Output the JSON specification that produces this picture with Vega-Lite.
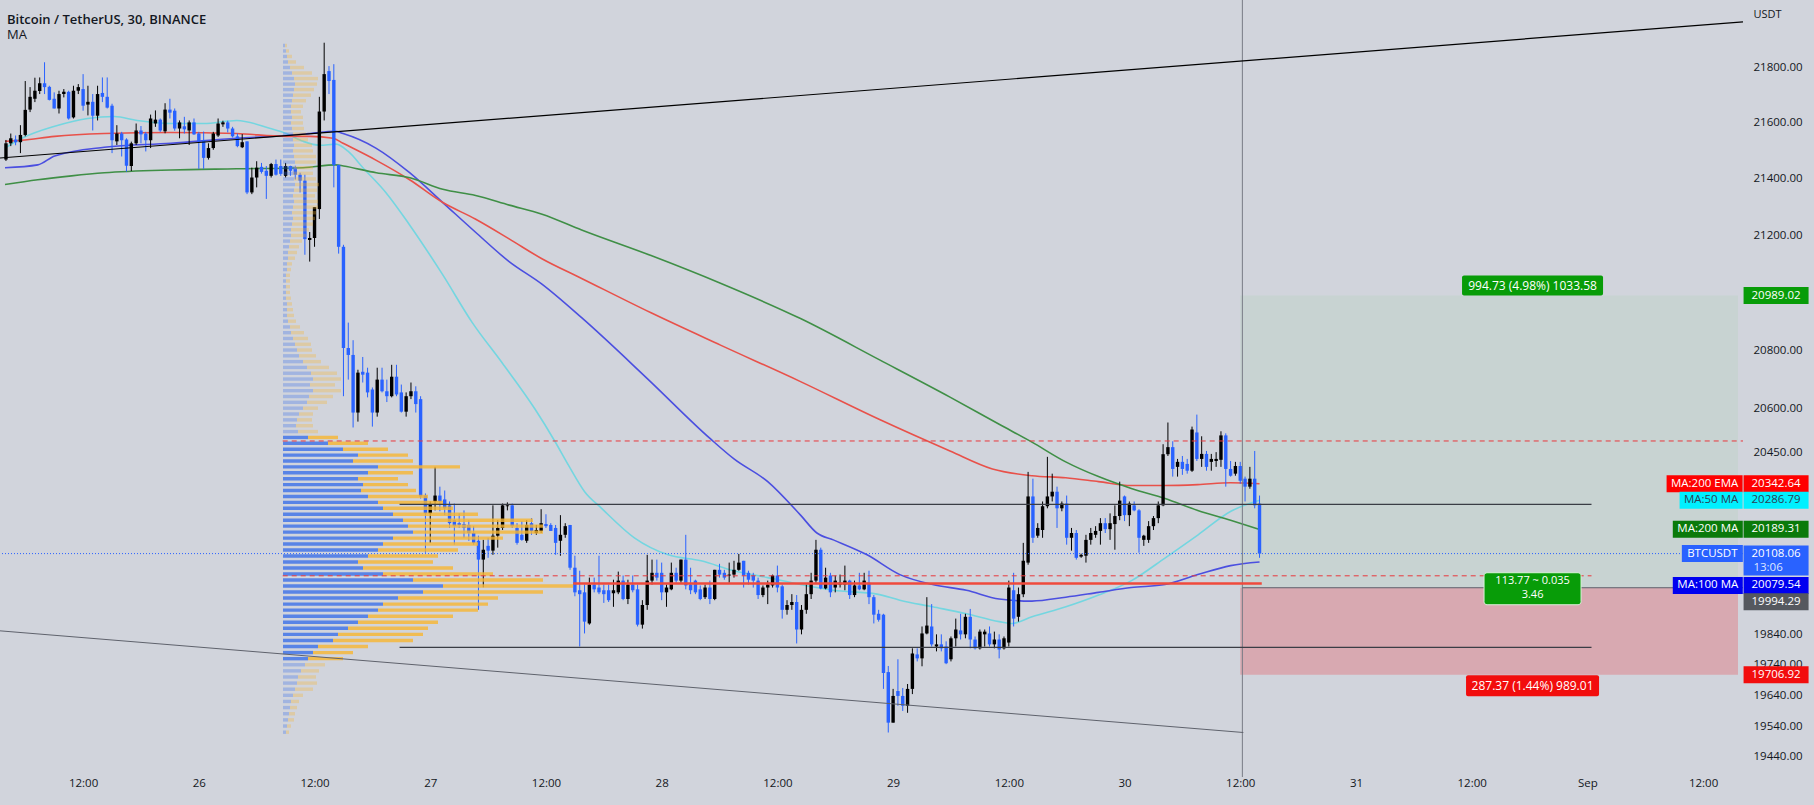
{
"$schema": "https://vega.github.io/schema/vega-lite/v6.json",
"width": 1743, "height": 777,
"autosize": {"type": "none"},
"padding": {"left": 0, "top": 0, "right": 71, "bottom": 28},
"background": "#d1d4dc",
"config": {"view": {"stroke": null}, "tick": {"opacity": 1}},
"title": {"text": "Bitcoin / TetherUS, 30, BINANCE", "subtitle": "MA", "anchor": "start", "frame": "group", "offset": -42, "dx": 7, "font": "Open Sans", "fontSize": 13, "fontWeight": 600, "color": "#131722", "subtitleFont": "Open Sans", "subtitleFontSize": 13, "subtitleColor": "#131722", "subtitlePadding": 2},
"data": {"values": [{}]},
"datasets": {
"candles": [
{"t":4,"o":21469,"h":21539,"l":21464,"c":21527},{"t":4.5,"o":21527,"h":21562,"l":21517,"c":21545},{"t":5,"o":21541,"h":21555,"l":21520,"c":21531},{"t":5.5,"o":21531,"h":21592,"l":21492,"c":21557},{"t":6,"o":21557,"h":21751,"l":21552,"c":21647},{"t":6.5,"o":21648,"h":21729,"l":21639,"c":21694},{"t":7,"o":21687,"h":21763,"l":21675,"c":21716},{"t":7.5,"o":21715,"h":21764,"l":21704,"c":21743},{"t":8,"o":21743,"h":21819,"l":21704,"c":21729},{"t":8.5,"o":21730,"h":21734,"l":21681,"c":21683},
{"t":9,"o":21687,"h":21710,"l":21652,"c":21652},{"t":9.5,"o":21652,"h":21716,"l":21634,"c":21704},{"t":10,"o":21704,"h":21722,"l":21692,"c":21712},{"t":10.5,"o":21712,"h":21716,"l":21612,"c":21616},{"t":11,"o":21620,"h":21734,"l":21616,"c":21716},{"t":11.5,"o":21716,"h":21740,"l":21704,"c":21729},{"t":12,"o":21722,"h":21776,"l":21644,"c":21662},{"t":12.5,"o":21666,"h":21734,"l":21627,"c":21676},{"t":13,"o":21676,"h":21704,"l":21573,"c":21626},{"t":13.5,"o":21626,"h":21734,"l":21609,"c":21704},
{"t":14,"o":21708,"h":21764,"l":21675,"c":21694},{"t":14.5,"o":21694,"h":21764,"l":21652,"c":21655},{"t":15,"o":21662,"h":21669,"l":21492,"c":21538},{"t":15.5,"o":21534,"h":21592,"l":21521,"c":21562},{"t":16,"o":21562,"h":21568,"l":21480,"c":21538},{"t":16.5,"o":21541,"h":21545,"l":21426,"c":21447},{"t":17,"o":21446,"h":21533,"l":21428,"c":21527},{"t":17.5,"o":21527,"h":21598,"l":21521,"c":21573},{"t":18,"o":21573,"h":21589,"l":21527,"c":21559},{"t":18.5,"o":21562,"h":21568,"l":21498,"c":21538},
{"t":19,"o":21538,"h":21630,"l":21510,"c":21616},{"t":19.5,"o":21598,"h":21645,"l":21586,"c":21612},{"t":20,"o":21612,"h":21616,"l":21568,"c":21573},{"t":20.5,"o":21570,"h":21671,"l":21563,"c":21648},{"t":21,"o":21648,"h":21687,"l":21616,"c":21637},{"t":21.5,"o":21644,"h":21652,"l":21572,"c":21580},{"t":22,"o":21580,"h":21609,"l":21545,"c":21602},{"t":22.5,"o":21588,"h":21622,"l":21562,"c":21577},{"t":23,"o":21573,"h":21609,"l":21521,"c":21602},{"t":23.5,"o":21602,"h":21616,"l":21557,"c":21559},
{"t":24,"o":21562,"h":21568,"l":21436,"c":21534},{"t":24.5,"o":21538,"h":21569,"l":21436,"c":21475},{"t":25,"o":21475,"h":21527,"l":21469,"c":21510},{"t":25.5,"o":21510,"h":21568,"l":21504,"c":21562},{"t":26,"o":21555,"h":21616,"l":21550,"c":21598},{"t":26.5,"o":21595,"h":21608,"l":21586,"c":21602},{"t":27,"o":21602,"h":21608,"l":21566,"c":21580},{"t":27.5,"o":21580,"h":21586,"l":21548,"c":21552},{"t":28,"o":21552,"h":21562,"l":21513,"c":21517},{"t":28.5,"o":21513,"h":21560,"l":21510,"c":21531},
{"t":29,"o":21534,"h":21534,"l":21346,"c":21352},{"t":29.5,"o":21352,"h":21440,"l":21346,"c":21405},{"t":30,"o":21405,"h":21463,"l":21370,"c":21440},{"t":30.5,"o":21443,"h":21457,"l":21419,"c":21425},{"t":31,"o":21429,"h":21446,"l":21329,"c":21411},{"t":31.5,"o":21411,"h":21457,"l":21405,"c":21453},{"t":32,"o":21453,"h":21469,"l":21412,"c":21415},{"t":32.5,"o":21446,"h":21469,"l":21411,"c":21418},{"t":33,"o":21411,"h":21457,"l":21405,"c":21446},{"t":33.5,"o":21446,"h":21447,"l":21411,"c":21429},
{"t":34,"o":21440,"h":21447,"l":21398,"c":21415},{"t":34.5,"o":21415,"h":21422,"l":21352,"c":21394},{"t":35,"o":21394,"h":21415,"l":21132,"c":21187},{"t":35.5,"o":21184,"h":21212,"l":21108,"c":21191},{"t":36,"o":21191,"h":21300,"l":21160,"c":21300},{"t":36.5,"o":21293,"h":21694,"l":21258,"c":21641},{"t":37,"o":21641,"h":21890,"l":21609,"c":21776},{"t":37.5,"o":21787,"h":21805,"l":21704,"c":21751},{"t":38,"o":21755,"h":21812,"l":21370,"c":21450},{"t":38.5,"o":21450,"h":21450,"l":21136,"c":21160},
{"t":39,"o":21160,"h":21167,"l":20641,"c":20807},{"t":39.5,"o":20807,"h":20895,"l":20698,"c":20783},{"t":40,"o":20783,"h":20834,"l":20534,"c":20585},{"t":40.5,"o":20585,"h":20732,"l":20554,"c":20722},{"t":41,"o":20725,"h":20776,"l":20688,"c":20715},{"t":41.5,"o":20722,"h":20739,"l":20637,"c":20654},{"t":42,"o":20664,"h":20671,"l":20537,"c":20585},{"t":42.5,"o":20585,"h":20739,"l":20571,"c":20698},{"t":43,"o":20698,"h":20739,"l":20654,"c":20658},{"t":43.5,"o":20658,"h":20698,"l":20621,"c":20641},
{"t":44,"o":20641,"h":20749,"l":20637,"c":20708},{"t":44.5,"o":20708,"h":20749,"l":20641,"c":20647},{"t":45,"o":20654,"h":20681,"l":20585,"c":20588},{"t":45.5,"o":20588,"h":20654,"l":20571,"c":20641},{"t":46,"o":20641,"h":20688,"l":20631,"c":20658},{"t":46.5,"o":20658,"h":20675,"l":20585,"c":20614},{"t":47,"o":20631,"h":20641,"l":20293,"c":20300},{"t":47.5,"o":20303,"h":20310,"l":20111,"c":20243},{"t":48,"o":20243,"h":20283,"l":20144,"c":20273},{"t":48.5,"o":20283,"h":20400,"l":20253,"c":20303},
{"t":49,"o":20303,"h":20333,"l":20250,"c":20283},{"t":49.5,"o":20290,"h":20320,"l":20237,"c":20260},{"t":50,"o":20270,"h":20283,"l":20194,"c":20210},{"t":50.5,"o":20220,"h":20276,"l":20138,"c":20200},{"t":51,"o":20210,"h":20243,"l":20194,"c":20204},{"t":51.5,"o":20207,"h":20253,"l":20161,"c":20194},{"t":52,"o":20204,"h":20220,"l":20151,"c":20177},{"t":52.5,"o":20177,"h":20200,"l":20138,"c":20144},{"t":53,"o":20151,"h":20168,"l":19921,"c":20088},{"t":53.5,"o":20088,"h":20154,"l":19996,"c":20121},
{"t":54,"o":20134,"h":20161,"l":20094,"c":20118},{"t":54.5,"o":20118,"h":20270,"l":20104,"c":20168},{"t":55,"o":20168,"h":20220,"l":20128,"c":20194},{"t":55.5,"o":20194,"h":20276,"l":20187,"c":20270},{"t":56,"o":20267,"h":20280,"l":20253,"c":20270},{"t":56.5,"o":20270,"h":20276,"l":20194,"c":20200},{"t":57,"o":20194,"h":20210,"l":20138,"c":20144},{"t":57.5,"o":20171,"h":20217,"l":20151,"c":20154},{"t":58,"o":20151,"h":20220,"l":20144,"c":20204},{"t":58.5,"o":20210,"h":20227,"l":20171,"c":20184},
{"t":59,"o":20177,"h":20204,"l":20171,"c":20187},{"t":59.5,"o":20184,"h":20257,"l":20177,"c":20210},{"t":60,"o":20207,"h":20240,"l":20194,"c":20200},{"t":60.5,"o":20204,"h":20210,"l":20184,"c":20184},{"t":61,"o":20194,"h":20204,"l":20104,"c":20144},{"t":61.5,"o":20151,"h":20237,"l":20101,"c":20171},{"t":62,"o":20171,"h":20210,"l":20161,"c":20200},{"t":62.5,"o":20204,"h":20204,"l":20054,"c":20061},{"t":63,"o":20061,"h":20101,"l":19966,"c":19979},{"t":63.5,"o":19986,"h":20051,"l":19800,"c":19973},
{"t":64,"o":19979,"h":20005,"l":19843,"c":19882},{"t":64.5,"o":19876,"h":20028,"l":19872,"c":20005},{"t":65,"o":20005,"h":20028,"l":19979,"c":19989},{"t":65.5,"o":19995,"h":20101,"l":19973,"c":19979},{"t":66,"o":19986,"h":20005,"l":19944,"c":19973},{"t":66.5,"o":19986,"h":20005,"l":19947,"c":19953},{"t":67,"o":19976,"h":20021,"l":19931,"c":19986},{"t":67.5,"o":19979,"h":20048,"l":19973,"c":20018},{"t":68,"o":20018,"h":20035,"l":19953,"c":19957},{"t":68.5,"o":19957,"h":20021,"l":19940,"c":20005},
{"t":69,"o":20005,"h":20035,"l":19979,"c":19986},{"t":69.5,"o":19989,"h":20005,"l":19866,"c":19872},{"t":70,"o":19872,"h":19953,"l":19859,"c":19937},{"t":70.5,"o":19937,"h":20104,"l":19921,"c":20018},{"t":71,"o":20018,"h":20088,"l":20005,"c":20044},{"t":71.5,"o":20044,"h":20088,"l":20018,"c":20028},{"t":72,"o":20044,"h":20078,"l":19953,"c":19979},{"t":72.5,"o":19979,"h":20005,"l":19931,"c":19995},{"t":73,"o":19989,"h":20078,"l":19986,"c":20044},{"t":73.5,"o":20044,"h":20061,"l":20011,"c":20018},
{"t":74,"o":20018,"h":20088,"l":20011,"c":20088},{"t":74.5,"o":20088,"h":20171,"l":19989,"c":20002},{"t":75,"o":20005,"h":20061,"l":19973,"c":19986},{"t":75.5,"o":20018,"h":20021,"l":19973,"c":19979},{"t":76,"o":19989,"h":20002,"l":19953,"c":19957},{"t":76.5,"o":19963,"h":20005,"l":19957,"c":19995},{"t":77,"o":19995,"h":20018,"l":19940,"c":19957},{"t":77.5,"o":19957,"h":20054,"l":19953,"c":20054},{"t":78,"o":20054,"h":20074,"l":20028,"c":20038},{"t":78.5,"o":20044,"h":20054,"l":20021,"c":20028},
{"t":79,"o":20035,"h":20078,"l":20011,"c":20038},{"t":79.5,"o":20038,"h":20084,"l":20028,"c":20054},{"t":80,"o":20054,"h":20107,"l":20051,"c":20078},{"t":80.5,"o":20084,"h":20084,"l":19995,"c":20035},{"t":81,"o":20044,"h":20051,"l":20005,"c":20021},{"t":81.5,"o":20035,"h":20044,"l":19995,"c":20018},{"t":82,"o":20018,"h":20028,"l":19957,"c":19970},{"t":82.5,"o":19970,"h":20002,"l":19963,"c":19995},{"t":83,"o":19995,"h":20018,"l":19940,"c":20005},{"t":83.5,"o":20002,"h":20038,"l":19995,"c":20035},
{"t":84,"o":20035,"h":20068,"l":19979,"c":19995},{"t":84.5,"o":19999,"h":20005,"l":19892,"c":19921},{"t":85,"o":19921,"h":19953,"l":19905,"c":19937},{"t":85.5,"o":19937,"h":19973,"l":19921,"c":19947},{"t":86,"o":19947,"h":19970,"l":19810,"c":19856},{"t":86.5,"o":19856,"h":19937,"l":19840,"c":19921},{"t":87,"o":19921,"h":20005,"l":19908,"c":19973},{"t":87.5,"o":19973,"h":20044,"l":19957,"c":20018},{"t":88,"o":20018,"h":20154,"l":20011,"c":20121},{"t":88.5,"o":20121,"h":20128,"l":19989,"c":19992},
{"t":89,"o":19992,"h":20061,"l":19989,"c":20028},{"t":89.5,"o":20035,"h":20044,"l":19963,"c":19979},{"t":90,"o":19995,"h":20035,"l":19979,"c":20018},{"t":90.5,"o":20005,"h":20038,"l":19995,"c":20011},{"t":91,"o":20005,"h":20068,"l":19986,"c":20018},{"t":91.5,"o":20018,"h":20021,"l":19957,"c":19970},{"t":92,"o":19970,"h":20018,"l":19963,"c":20002},{"t":92.5,"o":20002,"h":20044,"l":19986,"c":19989},{"t":93,"o":19989,"h":20044,"l":19986,"c":20018},{"t":93.5,"o":20011,"h":20051,"l":19940,"c":19963},
{"t":94,"o":19963,"h":19970,"l":19876,"c":19905},{"t":94.5,"o":19908,"h":19921,"l":19882,"c":19888},{"t":95,"o":19905,"h":19908,"l":19661,"c":19713},{"t":95.5,"o":19716,"h":19736,"l":19519,"c":19551},{"t":96,"o":19551,"h":19661,"l":19551,"c":19638},{"t":96.5,"o":19654,"h":19758,"l":19606,"c":19638},{"t":97,"o":19638,"h":19664,"l":19589,"c":19606},{"t":97.5,"o":19606,"h":19677,"l":19583,"c":19661},{"t":98,"o":19661,"h":19794,"l":19644,"c":19777},{"t":98.5,"o":19774,"h":19794,"l":19751,"c":19761},
{"t":99,"o":19761,"h":19866,"l":19735,"c":19843},{"t":99.5,"o":19843,"h":19963,"l":19840,"c":19869},{"t":100,"o":19866,"h":19940,"l":19800,"c":19807},{"t":100.5,"o":19800,"h":19840,"l":19784,"c":19807},{"t":101,"o":19807,"h":19840,"l":19784,"c":19794},{"t":101.5,"o":19800,"h":19817,"l":19742,"c":19745},{"t":102,"o":19758,"h":19833,"l":19751,"c":19827},{"t":102.5,"o":19827,"h":19892,"l":19800,"c":19856},{"t":103,"o":19853,"h":19908,"l":19823,"c":19840},{"t":103.5,"o":19840,"h":19908,"l":19827,"c":19898},
{"t":104,"o":19898,"h":19924,"l":19794,"c":19823},{"t":104.5,"o":19823,"h":19833,"l":19790,"c":19794},{"t":105,"o":19794,"h":19856,"l":19790,"c":19849},{"t":105.5,"o":19840,"h":19856,"l":19800,"c":19849},{"t":106,"o":19843,"h":19866,"l":19800,"c":19807},{"t":106.5,"o":19807,"h":19849,"l":19794,"c":19823},{"t":107,"o":19823,"h":19840,"l":19761,"c":19790},{"t":107.5,"o":19794,"h":19833,"l":19790,"c":19827},{"t":108,"o":19813,"h":20018,"l":19800,"c":19995},{"t":108.5,"o":19986,"h":20044,"l":19866,"c":19892},
{"t":109,"o":19898,"h":19995,"l":19882,"c":19973},{"t":109.5,"o":19973,"h":20144,"l":19963,"c":20084},{"t":110,"o":20078,"h":20383,"l":20071,"c":20300},{"t":110.5,"o":20300,"h":20360,"l":20144,"c":20161},{"t":111,"o":20168,"h":20210,"l":20161,"c":20194},{"t":111.5,"o":20187,"h":20283,"l":20161,"c":20267},{"t":112,"o":20267,"h":20434,"l":20260,"c":20300},{"t":112.5,"o":20300,"h":20377,"l":20283,"c":20316},{"t":113,"o":20316,"h":20333,"l":20194,"c":20260},{"t":113.5,"o":20260,"h":20283,"l":20250,"c":20276},
{"t":114,"o":20276,"h":20303,"l":20138,"c":20161},{"t":114.5,"o":20161,"h":20194,"l":20118,"c":20177},{"t":115,"o":20177,"h":20187,"l":20088,"c":20094},{"t":115.5,"o":20098,"h":20108,"l":20094,"c":20104},{"t":116,"o":20101,"h":20171,"l":20078,"c":20154},{"t":116.5,"o":20154,"h":20194,"l":20138,"c":20177},{"t":117,"o":20171,"h":20200,"l":20161,"c":20184},{"t":117.5,"o":20184,"h":20227,"l":20138,"c":20210},{"t":118,"o":20210,"h":20227,"l":20177,"c":20190},{"t":118.5,"o":20190,"h":20243,"l":20154,"c":20210},
{"t":119,"o":20207,"h":20270,"l":20121,"c":20234},{"t":119.5,"o":20234,"h":20350,"l":20220,"c":20286},{"t":120,"o":20300,"h":20303,"l":20217,"c":20237},{"t":120.5,"o":20237,"h":20283,"l":20200,"c":20276},{"t":121,"o":20270,"h":20283,"l":20250,"c":20253},{"t":121.5,"o":20253,"h":20257,"l":20111,"c":20161},{"t":122,"o":20154,"h":20171,"l":20134,"c":20168},{"t":122.5,"o":20154,"h":20217,"l":20144,"c":20200},{"t":123,"o":20200,"h":20234,"l":20187,"c":20227},{"t":123.5,"o":20227,"h":20283,"l":20210,"c":20270},
{"t":124,"o":20270,"h":20477,"l":20267,"c":20443},{"t":124.5,"o":20443,"h":20551,"l":20437,"c":20467},{"t":125,"o":20467,"h":20487,"l":20367,"c":20393},{"t":125.5,"o":20400,"h":20427,"l":20367,"c":20417},{"t":126,"o":20417,"h":20437,"l":20373,"c":20393},{"t":126.5,"o":20410,"h":20427,"l":20377,"c":20387},{"t":127,"o":20387,"h":20537,"l":20383,"c":20527},{"t":127.5,"o":20517,"h":20578,"l":20420,"c":20427},{"t":128,"o":20427,"h":20504,"l":20400,"c":20444},{"t":128.5,"o":20444,"h":20454,"l":20387,"c":20400},
{"t":129,"o":20417,"h":20444,"l":20387,"c":20427},{"t":129.5,"o":20420,"h":20450,"l":20400,"c":20427},{"t":130,"o":20424,"h":20521,"l":20400,"c":20507},{"t":130.5,"o":20507,"h":20514,"l":20333,"c":20393},{"t":131,"o":20393,"h":20420,"l":20367,"c":20370},{"t":131.5,"o":20377,"h":20417,"l":20370,"c":20403},{"t":132,"o":20403,"h":20417,"l":20343,"c":20353},{"t":132.5,"o":20360,"h":20367,"l":20283,"c":20333},{"t":133,"o":20333,"h":20400,"l":20326,"c":20360},{"t":133.5,"o":20360,"h":20454,"l":20260,"c":20270},
{"t":134,"o":20276,"h":20303,"l":20094,"c":20108.06}
],
"ma": [
{"s":"ma50","t":3.9,"v":21510},{"s":"ma50","t":5.65,"v":21545},{"s":"ma50","t":9.05,"v":21588},{"s":"ma50","t":12.46,"v":21616},{"s":"ma50","t":15.24,"v":21623},{"s":"ma50","t":17.61,"v":21609},{"s":"ma50","t":21.12,"v":21598},{"s":"ma50","t":24.52,"v":21598},{"s":"ma50","t":27.93,"v":21609},{"s":"ma50","t":31.43,"v":21580},{"s":"ma50","t":33.08,"v":21562},{"s":"ma50","t":34.83,"v":21534},{"s":"ma50","t":36.58,"v":21520},{"s":"ma50","t":38.23,"v":21524},{"s":"ma50","t":39.47,"v":21499},{"s":"ma50","t":41.02,"v":21440},{"s":"ma50","t":43.39,"v":21352},{"s":"ma50","t":45.86,"v":21237},{"s":"ma50","t":49.27,"v":21063},{"s":"ma50","t":52.36,"v":20895},{"s":"ma50","t":55.45,"v":20756},{"s":"ma50","t":58.86,"v":20597},{"s":"ma50","t":60.92,"v":20487},{"s":"ma50","t":62.36,"v":20404},{"s":"ma50","t":64.01,"v":20316},{"s":"ma50","t":65.77,"v":20260},{"s":"ma50","t":69.17,"v":20161},{"s":"ma50","t":72.68,"v":20104},{"s":"ma50","t":76.08,"v":20084},{"s":"ma50","t":79.48,"v":20051},{"s":"ma50","t":82.99,"v":20028},{"s":"ma50","t":86.39,"v":20005},{"s":"ma50","t":89.79,"v":19986},{"s":"ma50","t":94.33,"v":19973},{"s":"ma50","t":96.7,"v":19953},{"s":"ma50","t":100.1,"v":19931},{"s":"ma50","t":103.61,"v":19908},{"s":"ma50","t":107.01,"v":19882},{"s":"ma50","t":108.35,"v":19876},{"s":"ma50","t":110.41,"v":19898},{"s":"ma50","t":113.92,"v":19931},{"s":"ma50","t":117.32,"v":19970},{"s":"ma50","t":120.73,"v":20018},{"s":"ma50","t":124.23,"v":20094},{"s":"ma50","t":127.63,"v":20171},{"s":"ma50","t":131.03,"v":20250},{"s":"ma50","t":134,"v":20287},
{"s":"ma100","t":3.9,"v":21440},{"s":"ma100","t":7.3,"v":21450},{"s":"ma100","t":9.05,"v":21482},{"s":"ma100","t":14.2,"v":21513},{"s":"ma100","t":21.1,"v":21527},{"s":"ma100","t":27.9,"v":21545},{"s":"ma100","t":33.1,"v":21555},{"s":"ma100","t":35.55,"v":21562},{"s":"ma100","t":38.1,"v":21570},{"s":"ma100","t":38.96,"v":21562},{"s":"ma100","t":42.36,"v":21510},{"s":"ma100","t":45.86,"v":21422},{"s":"ma100","t":49.27,"v":21317},{"s":"ma100","t":52.67,"v":21212},{"s":"ma100","t":56.18,"v":21108},{"s":"ma100","t":59.58,"v":21029},{"s":"ma100","t":63.7,"v":20912},{"s":"ma100","t":70.4,"v":20705},{"s":"ma100","t":77.1,"v":20494},{"s":"ma100","t":79.5,"v":20427},{"s":"ma100","t":83,"v":20350},{"s":"ma100","t":86.4,"v":20237},{"s":"ma100","t":88.1,"v":20177},{"s":"ma100","t":89.8,"v":20154},{"s":"ma100","t":93.3,"v":20104},{"s":"ma100","t":96.7,"v":20038},{"s":"ma100","t":100.1,"v":20005},{"s":"ma100","t":103.6,"v":19986},{"s":"ma100","t":107,"v":19957},{"s":"ma100","t":110.4,"v":19950},{"s":"ma100","t":113.9,"v":19963},{"s":"ma100","t":117.3,"v":19979},{"s":"ma100","t":120.7,"v":19995},{"s":"ma100","t":124.2,"v":20005},{"s":"ma100","t":127.6,"v":20038},{"s":"ma100","t":131,"v":20068},{"s":"ma100","t":134,"v":20080},
{"s":"ema200","t":3.9,"v":21534},{"s":"ema200","t":5.65,"v":21538},{"s":"ema200","t":9.05,"v":21552},{"s":"ema200","t":14.2,"v":21562},{"s":"ema200","t":21.1,"v":21566},{"s":"ema200","t":27.9,"v":21562},{"s":"ema200","t":33.1,"v":21552},{"s":"ema200","t":35.55,"v":21552},{"s":"ema200","t":37.92,"v":21545},{"s":"ema200","t":38.96,"v":21527},{"s":"ema200","t":42.36,"v":21467},{"s":"ema200","t":45.86,"v":21397},{"s":"ema200","t":49.27,"v":21317},{"s":"ema200","t":52.67,"v":21258},{"s":"ema200","t":56.18,"v":21188},{"s":"ema200","t":59.58,"v":21118},{"s":"ema200","t":63.7,"v":21049},{"s":"ema200","t":70.9,"v":20929},{"s":"ema200","t":78.1,"v":20817},{"s":"ema200","t":86.4,"v":20691},{"s":"ema200","t":94.6,"v":20561},{"s":"ema200","t":101.9,"v":20454},{"s":"ema200","t":106.3,"v":20393},{"s":"ema200","t":110.4,"v":20370},{"s":"ema200","t":113.9,"v":20363},{"s":"ema200","t":117.3,"v":20350},{"s":"ema200","t":120.7,"v":20337},{"s":"ema200","t":124.2,"v":20337},{"s":"ema200","t":127.6,"v":20340},{"s":"ema200","t":131,"v":20346},{"s":"ema200","t":134,"v":20343},
{"s":"ma200","t":3.9,"v":21380},{"s":"ma200","t":7.3,"v":21397},{"s":"ma200","t":10.8,"v":21411},{"s":"ma200","t":14.2,"v":21422},{"s":"ma200","t":21.1,"v":21432},{"s":"ma200","t":27.9,"v":21436},{"s":"ma200","t":34.8,"v":21440},{"s":"ma200","t":38.2,"v":21450},{"s":"ma200","t":39,"v":21446},{"s":"ma200","t":42.4,"v":21422},{"s":"ma200","t":45.9,"v":21404},{"s":"ma200","t":49.3,"v":21363},{"s":"ma200","t":52.7,"v":21341},{"s":"ma200","t":56.2,"v":21307},{"s":"ma200","t":59.6,"v":21275},{"s":"ma200","t":63.7,"v":21219},{"s":"ma200","t":70.9,"v":21129},{"s":"ma200","t":78.1,"v":21032},{"s":"ma200","t":86.4,"v":20909},{"s":"ma200","t":94.6,"v":20766},{"s":"ma200","t":101.9,"v":20638},{"s":"ma200","t":107,"v":20545},{"s":"ma200","t":110.4,"v":20484},{"s":"ma200","t":113.9,"v":20417},{"s":"ma200","t":117.3,"v":20367},{"s":"ma200","t":120.7,"v":20327},{"s":"ma200","t":124.2,"v":20293},{"s":"ma200","t":127.6,"v":20253},{"s":"ma200","t":131,"v":20220},{"s":"ma200","t":134,"v":20189}
],
"vp": [
{"p":21880,"b":2,"o":2},{"p":21860,"b":3,"o":3},{"p":21840,"b":4,"o":5},{"p":21820,"b":5,"o":8},{"p":21800,"b":7,"o":14},{"p":21780,"b":9,"o":20},{"p":21760,"b":11,"o":24},{"p":21740,"b":12,"o":22},{"p":21720,"b":11,"o":20},{"p":21700,"b":10,"o":18},
{"p":21680,"b":9,"o":14},{"p":21660,"b":8,"o":12},{"p":21640,"b":8,"o":10},{"p":21620,"b":9,"o":11},{"p":21600,"b":8,"o":12},{"p":21580,"b":9,"o":12},{"p":21560,"b":10,"o":13},{"p":21540,"b":10,"o":15},{"p":21520,"b":11,"o":18},{"p":21500,"b":10,"o":20},
{"p":21480,"b":11,"o":22},{"p":21460,"b":12,"o":21},{"p":21440,"b":11,"o":19},{"p":21420,"b":10,"o":20},{"p":21400,"b":11,"o":22},{"p":21380,"b":12,"o":24},{"p":21360,"b":11,"o":23},{"p":21340,"b":10,"o":22},{"p":21320,"b":11,"o":24},{"p":21300,"b":10,"o":25},
{"p":21280,"b":9,"o":24},{"p":21260,"b":10,"o":22},{"p":21240,"b":9,"o":21},{"p":21220,"b":8,"o":18},{"p":21200,"b":8,"o":15},{"p":21180,"b":7,"o":12},{"p":21160,"b":6,"o":10},{"p":21140,"b":5,"o":9},{"p":21120,"b":5,"o":7},{"p":21100,"b":4,"o":5},
{"p":21080,"b":4,"o":4},{"p":21060,"b":3,"o":4},{"p":21040,"b":3,"o":4},{"p":21020,"b":3,"o":4},{"p":21000,"b":3,"o":4},{"p":20980,"b":3,"o":5},{"p":20960,"b":4,"o":5},{"p":20940,"b":4,"o":6},{"p":20920,"b":4,"o":7},{"p":20900,"b":5,"o":8},
{"p":20880,"b":7,"o":10},{"p":20860,"b":8,"o":13},{"p":20840,"b":10,"o":15},{"p":20820,"b":12,"o":16},{"p":20800,"b":14,"o":15},{"p":20780,"b":16,"o":17},{"p":20760,"b":20,"o":18},{"p":20740,"b":24,"o":22},{"p":20720,"b":28,"o":26},{"p":20700,"b":30,"o":28},
{"p":20680,"b":27,"o":25},{"p":20660,"b":30,"o":28},{"p":20640,"b":26,"o":24},{"p":20620,"b":24,"o":20},{"p":20600,"b":20,"o":15},{"p":20580,"b":16,"o":14},{"p":20560,"b":14,"o":15},{"p":20540,"b":13,"o":17},{"p":20520,"b":15,"o":20},{"p":20500,"b":25,"o":30},
{"p":20480,"b":45,"o":40},{"p":20460,"b":60,"o":45},{"p":20440,"b":75,"o":50},{"p":20420,"b":70,"o":60},{"p":20400,"b":95,"o":82},{"p":20380,"b":85,"o":45},{"p":20360,"b":75,"o":40},{"p":20340,"b":80,"o":45},{"p":20320,"b":78,"o":55},{"p":20300,"b":85,"o":60},
{"p":20280,"b":95,"o":65},{"p":20260,"b":100,"o":70},{"p":20240,"b":110,"o":85},{"p":20220,"b":120,"o":130},{"p":20200,"b":125,"o":135},{"p":20180,"b":130,"o":130},{"p":20160,"b":110,"o":110},{"p":20140,"b":100,"o":95},{"p":20120,"b":95,"o":80},{"p":20100,"b":85,"o":70},
{"p":20080,"b":75,"o":75},{"p":20060,"b":80,"o":90},{"p":20040,"b":100,"o":110},{"p":20020,"b":130,"o":130},{"p":20000,"b":160,"o":130},{"p":19980,"b":140,"o":120},{"p":19960,"b":115,"o":100},{"p":19940,"b":100,"o":105},{"p":19920,"b":95,"o":100},{"p":19900,"b":85,"o":85},
{"p":19880,"b":75,"o":80},{"p":19860,"b":65,"o":80},{"p":19840,"b":55,"o":85},{"p":19820,"b":50,"o":80},{"p":19800,"b":35,"o":50},{"p":19780,"b":30,"o":40},{"p":19760,"b":25,"o":35},{"p":19740,"b":22,"o":20},{"p":19720,"b":18,"o":18},{"p":19700,"b":15,"o":18},
{"p":19680,"b":14,"o":20},{"p":19660,"b":12,"o":18},{"p":19640,"b":10,"o":10},{"p":19620,"b":8,"o":8},{"p":19600,"b":7,"o":7},{"p":19580,"b":6,"o":6},{"p":19560,"b":5,"o":6},{"p":19540,"b":4,"o":4},{"p":19520,"b":3,"o":3}
]
},
"layer": [
{
"layer": [
{"mark": {"type": "rect", "color": "#c8d3d2"},
 "encoding": {"x": {"datum": 132, "type": "quantitative", "scale": {"domain": [3.9, 183.62], "nice": false, "zero": false}, "title": null},
  "x2": {"datum": 183.62},
  "y": {"datum": 19994.29, "type": "quantitative", "scale": {"type": "log", "domain": [19391.3, 22027.6], "nice": false}, "title": "USDT",
   "axis": {"orient": "right", "values": [21800,21600,21400,21200,20800,20600,20450,19840,19740,19640,19540,19440], "format": ".2f", "grid": false, "ticks": false, "domain": false, "labelFont": "Open Sans", "labelFontSize": 11.5, "labelColor": "#131722", "labelPadding": 10, "labelAlign": "left", "labelBaseline": "middle", "labelFlush": false, "labelOverlap": false, "titleAngle": 0, "titleX": 10, "titleY": 14, "titleAlign": "left", "titleBaseline": "middle", "titleFont": "Open Sans", "titleFontSize": 11, "titleFontWeight": "normal", "titleColor": "#131722"}},
  "y2": {"datum": 20989.02}}},
{"mark": {"type": "rect", "color": "#d8a9b1"},
 "encoding": {"x": {"datum": 132, "type": "quantitative", "scale": {"domain": [3.9, 183.62], "nice": false, "zero": false}, "title": null},
  "x2": {"datum": 183.62},
  "y": {"datum": 19706.92, "type": "quantitative", "scale": {"type": "log", "domain": [19391.3, 22027.6], "nice": false}, "title": "USDT"},
  "y2": {"datum": 19994.29}}},
{"data": {"name": "ma"},
 "mark": {"type": "line", "strokeWidth": 1.6, "clip": true, "interpolate": "monotone"},
 "encoding": {"x": {"field": "t", "type": "quantitative", "scale": {"domain": [3.9, 183.62], "nice": false, "zero": false}, "title": null},
  "y": {"field": "v", "type": "quantitative", "scale": {"type": "log", "domain": [19391.3, 22027.6], "nice": false}, "title": "USDT"},
  "color": {"field": "s", "type": "nominal", "scale": {"domain": ["ma50","ma100","ema200","ma200"], "range": ["#74d6e0","#4b4fe0","#e8514a","#3f8f46"]}, "legend": null}}},
{"data": {"name": "candles"},
 "mark": {"type": "rule", "strokeWidth": 1, "clip": true},
 "encoding": {"x": {"field": "t", "type": "quantitative", "scale": {"domain": [3.9, 183.62], "nice": false, "zero": false}, "title": null,
   "axis": {"values": [12,24,36,48,60,72,84,96,108,120,132,144,156,168,180], "labelExpr": "datum.value % 24 == 12 ? '12:00' : (datum.value == 168 ? 'Sep' : '' + (25 + datum.value / 24))", "grid": false, "ticks": false, "domain": false, "labelFont": "Open Sans", "labelFontSize": 11.5, "labelColor": "#131722", "labelPadding": 0, "labelFlush": false, "labelOverlap": false}},
  "y": {"field": "l", "type": "quantitative", "scale": {"type": "log", "domain": [19391.3, 22027.6], "nice": false}, "title": "USDT"},
  "y2": {"field": "h"},
  "color": {"condition": {"test": "datum.c >= datum.o", "value": "#000000"}, "value": "#2962ff"}}},
{"data": {"name": "candles"},
 "mark": {"type": "bar", "size": 3.4, "orient": "vertical", "clip": true},
 "encoding": {"x": {"field": "t", "type": "quantitative", "scale": {"domain": [3.9, 183.62], "nice": false, "zero": false}, "title": null},
  "y": {"field": "o", "type": "quantitative", "scale": {"type": "log", "domain": [19391.3, 22027.6], "nice": false}, "title": "USDT"},
  "y2": {"field": "c"},
  "color": {"condition": {"test": "datum.c >= datum.o", "value": "#000000"}, "value": "#2962ff"}}}
]
},
{"data": {"name": "vp"},
 "transform": [{"fold": ["b", "o"], "as": ["side", "vol"]}],
 "mark": {"type": "bar", "orient": "horizontal", "size": 3.4},
 "encoding": {"x": {"field": "vol", "type": "quantitative", "stack": "zero", "scale": {"domain": [0, 290], "range": [283, 573], "nice": false, "zero": true}, "axis": null},
  "y": {"field": "p", "type": "quantitative", "scale": {"type": "log", "domain": [19391.3, 22027.6], "nice": false}, "title": "USDT"},
  "color": {"field": "side", "type": "nominal", "scale": {"domain": ["b","o"], "range": ["#3b6fe8","#f7b531"]}, "legend": null},
  "order": {"field": "side", "sort": "ascending"},
  "opacity": {"condition": {"test": "datum.p >= 19760 && datum.p <= 20500", "value": 0.8}, "value": 0.32}}},
{
"layer": [
{"mark": {"type": "rule", "color": "#2962ff", "strokeDash": [1, 2], "strokeWidth": 1},
 "encoding": {"y": {"datum": 20108.06, "type": "quantitative", "scale": {"type": "log", "domain": [19391.3, 22027.6], "nice": false}, "title": "USDT"}}},
{"mark": {"type": "rule", "color": "#787b86", "strokeWidth": 1},
 "encoding": {"x": {"datum": 132, "type": "quantitative", "scale": {"domain": [3.9, 183.62], "nice": false, "zero": false}, "axis": null}}},
{"mark": {"type": "rule", "color": "#5d606b", "strokeWidth": 1},
 "encoding": {"x": {"datum": 132, "type": "quantitative", "scale": {"domain": [3.9, 183.62], "nice": false, "zero": false}, "axis": null}, "x2": {"datum": 183.62},
  "y": {"datum": 19994.29, "type": "quantitative", "scale": {"type": "log", "domain": [19391.3, 22027.6], "nice": false}, "title": "USDT"}}},
{"mark": {"type": "rule", "color": "#ef4a3c", "strokeWidth": 2.5},
 "encoding": {"x": {"datum": 63, "type": "quantitative", "scale": {"domain": [3.9, 183.62], "nice": false, "zero": false}, "axis": null}, "x2": {"datum": 134},
  "y": {"datum": 20008, "type": "quantitative", "scale": {"type": "log", "domain": [19391.3, 22027.6], "nice": false}, "title": "USDT"}}},
{"mark": {"type": "rule", "color": "#e8383d", "strokeWidth": 1, "strokeDash": [5, 4]},
 "encoding": {"x": {"datum": 33.05, "type": "quantitative", "scale": {"domain": [3.9, 183.62], "nice": false, "zero": false}, "axis": null}, "x2": {"datum": 183.62},
  "y": {"datum": 20488, "type": "quantitative", "scale": {"type": "log", "domain": [19391.3, 22027.6], "nice": false}, "title": "USDT"}}},
{"mark": {"type": "rule", "color": "#e8383d", "strokeWidth": 1, "strokeDash": [5, 4]},
 "encoding": {"x": {"datum": 33.05, "type": "quantitative", "scale": {"domain": [3.9, 183.62], "nice": false, "zero": false}, "axis": null}, "x2": {"datum": 168},
  "y": {"datum": 20034, "type": "quantitative", "scale": {"type": "log", "domain": [19391.3, 22027.6], "nice": false}, "title": "USDT"}}},
{"mark": {"type": "rule", "color": "#3a3d45", "strokeWidth": 1.2},
 "encoding": {"x": {"datum": 45.1, "type": "quantitative", "scale": {"domain": [3.9, 183.62], "nice": false, "zero": false}, "axis": null}, "x2": {"datum": 168},
  "y": {"datum": 20273, "type": "quantitative", "scale": {"type": "log", "domain": [19391.3, 22027.6], "nice": false}, "title": "USDT"}}},
{"mark": {"type": "rule", "color": "#3a3d45", "strokeWidth": 1.2},
 "encoding": {"x": {"datum": 45.1, "type": "quantitative", "scale": {"domain": [3.9, 183.62], "nice": false, "zero": false}, "axis": null}, "x2": {"datum": 168},
  "y": {"datum": 19797, "type": "quantitative", "scale": {"type": "log", "domain": [19391.3, 22027.6], "nice": false}, "title": "USDT"}}},
{"mark": {"type": "rule", "color": "#000000", "strokeWidth": 1.2},
 "encoding": {"x": {"datum": 3.9, "type": "quantitative", "scale": {"domain": [3.9, 183.62], "nice": false, "zero": false}, "axis": null}, "x2": {"datum": 183.62},
  "y": {"datum": 21474.5, "type": "quantitative", "scale": {"type": "log", "domain": [19391.3, 22027.6], "nice": false}, "title": "USDT"}, "y2": {"datum": 21966}}},
{"mark": {"type": "rule", "color": "#5f626c", "strokeWidth": 1},
 "encoding": {"x": {"datum": 3.9, "type": "quantitative", "scale": {"domain": [3.9, 183.62], "nice": false, "zero": false}, "axis": null}, "x2": {"datum": 132.1},
  "y": {"datum": 19851.6, "type": "quantitative", "scale": {"type": "log", "domain": [19391.3, 22027.6], "nice": false}, "title": "USDT"}, "y2": {"datum": 19519}}},

{"mark": {"type": "tick", "orient": "horizontal", "size": 141, "thickness": 20, "color": "#089c08", "yOffset": -10, "cornerRadius": 2},
 "encoding": {"x": {"datum": 161.92, "type": "quantitative", "scale": {"domain": [3.9, 183.62], "nice": false, "zero": false}, "axis": null},
  "y": {"datum": 20989.02, "type": "quantitative", "scale": {"type": "log", "domain": [19391.3, 22027.6], "nice": false}, "title": "USDT"}}},
{"mark": {"type": "text", "text": "994.73 (4.98%) 1033.58", "color": "#ffffff", "font": "Open Sans", "fontSize": 12, "align": "center", "baseline": "middle", "yOffset": -10},
 "encoding": {"x": {"datum": 161.92, "type": "quantitative", "scale": {"domain": [3.9, 183.62], "nice": false, "zero": false}, "axis": null},
  "y": {"datum": 20989.02, "type": "quantitative", "scale": {"type": "log", "domain": [19391.3, 22027.6], "nice": false}, "title": "USDT"}}},
{"mark": {"type": "tick", "orient": "horizontal", "size": 97, "thickness": 32, "color": "#089c08", "stroke": "#d9f2d9", "strokeWidth": 1, "yOffset": 1, "cornerRadius": 3},
 "encoding": {"x": {"datum": 161.92, "type": "quantitative", "scale": {"domain": [3.9, 183.62], "nice": false, "zero": false}, "axis": null},
  "y": {"datum": 19994.29, "type": "quantitative", "scale": {"type": "log", "domain": [19391.3, 22027.6], "nice": false}, "title": "USDT"}}},
{"mark": {"type": "text", "text": "113.77 ~ 0.035", "color": "#ffffff", "font": "Open Sans", "fontSize": 11, "align": "center", "baseline": "middle", "yOffset": -6.5},
 "encoding": {"x": {"datum": 161.92, "type": "quantitative", "scale": {"domain": [3.9, 183.62], "nice": false, "zero": false}, "axis": null},
  "y": {"datum": 19994.29, "type": "quantitative", "scale": {"type": "log", "domain": [19391.3, 22027.6], "nice": false}, "title": "USDT"}}},
{"mark": {"type": "text", "text": "3.46", "color": "#ffffff", "font": "Open Sans", "fontSize": 11, "align": "center", "baseline": "middle", "yOffset": 7.5},
 "encoding": {"x": {"datum": 161.92, "type": "quantitative", "scale": {"domain": [3.9, 183.62], "nice": false, "zero": false}, "axis": null},
  "y": {"datum": 19994.29, "type": "quantitative", "scale": {"type": "log", "domain": [19391.3, 22027.6], "nice": false}, "title": "USDT"}}},
{"mark": {"type": "tick", "orient": "horizontal", "size": 133, "thickness": 21, "color": "#f20d0d", "yOffset": 11, "cornerRadius": 2},
 "encoding": {"x": {"datum": 161.92, "type": "quantitative", "scale": {"domain": [3.9, 183.62], "nice": false, "zero": false}, "axis": null},
  "y": {"datum": 19706.92, "type": "quantitative", "scale": {"type": "log", "domain": [19391.3, 22027.6], "nice": false}, "title": "USDT"}}},
{"mark": {"type": "text", "text": "287.37 (1.44%) 989.01", "color": "#ffffff", "font": "Open Sans", "fontSize": 12, "align": "center", "baseline": "middle", "yOffset": 11},
 "encoding": {"x": {"datum": 161.92, "type": "quantitative", "scale": {"domain": [3.9, 183.62], "nice": false, "zero": false}, "axis": null},
  "y": {"datum": 19706.92, "type": "quantitative", "scale": {"type": "log", "domain": [19391.3, 22027.6], "nice": false}, "title": "USDT"}}},

{"mark": {"type": "tick", "orient": "horizontal", "size": 76, "thickness": 17, "color": "#ff0000"},
 "encoding": {"x": {"datum": 179.66, "type": "quantitative", "scale": {"domain": [3.9, 183.62], "nice": false, "zero": false}, "axis": null},
  "y": {"datum": 20342.64, "type": "quantitative", "scale": {"type": "log", "domain": [19391.3, 22027.6], "nice": false}, "title": "USDT"}}},
{"mark": {"type": "text", "text": "MA:200 EMA", "color": "#ffffff", "font": "Open Sans", "fontSize": 11.5, "align": "center", "baseline": "middle"},
 "encoding": {"x": {"datum": 179.66, "type": "quantitative", "scale": {"domain": [3.9, 183.62], "nice": false, "zero": false}, "axis": null},
  "y": {"datum": 20342.64, "type": "quantitative", "scale": {"type": "log", "domain": [19391.3, 22027.6], "nice": false}, "title": "USDT"}}},
{"mark": {"type": "tick", "orient": "horizontal", "size": 63, "thickness": 17, "color": "#00f0ff"},
 "encoding": {"x": {"datum": 180.33, "type": "quantitative", "scale": {"domain": [3.9, 183.62], "nice": false, "zero": false}, "axis": null},
  "y": {"datum": 20286.79, "type": "quantitative", "scale": {"type": "log", "domain": [19391.3, 22027.6], "nice": false}, "title": "USDT"}}},
{"mark": {"type": "text", "text": "MA:50 MA", "color": "#2a3f55", "font": "Open Sans", "fontSize": 11.5, "align": "center", "baseline": "middle"},
 "encoding": {"x": {"datum": 180.33, "type": "quantitative", "scale": {"domain": [3.9, 183.62], "nice": false, "zero": false}, "axis": null},
  "y": {"datum": 20286.79, "type": "quantitative", "scale": {"type": "log", "domain": [19391.3, 22027.6], "nice": false}, "title": "USDT"}}},
{"mark": {"type": "tick", "orient": "horizontal", "size": 70, "thickness": 17, "color": "#0a7a0a"},
 "encoding": {"x": {"datum": 179.99, "type": "quantitative", "scale": {"domain": [3.9, 183.62], "nice": false, "zero": false}, "axis": null},
  "y": {"datum": 20189.31, "type": "quantitative", "scale": {"type": "log", "domain": [19391.3, 22027.6], "nice": false}, "title": "USDT"}}},
{"mark": {"type": "text", "text": "MA:200 MA", "color": "#ffffff", "font": "Open Sans", "fontSize": 11.5, "align": "center", "baseline": "middle"},
 "encoding": {"x": {"datum": 179.99, "type": "quantitative", "scale": {"domain": [3.9, 183.62], "nice": false, "zero": false}, "axis": null},
  "y": {"datum": 20189.31, "type": "quantitative", "scale": {"type": "log", "domain": [19391.3, 22027.6], "nice": false}, "title": "USDT"}}},
{"mark": {"type": "tick", "orient": "horizontal", "size": 61, "thickness": 17, "color": "#2962ff"},
 "encoding": {"x": {"datum": 180.46, "type": "quantitative", "scale": {"domain": [3.9, 183.62], "nice": false, "zero": false}, "axis": null},
  "y": {"datum": 20108.06, "type": "quantitative", "scale": {"type": "log", "domain": [19391.3, 22027.6], "nice": false}, "title": "USDT"}}},
{"mark": {"type": "text", "text": "BTCUSDT", "color": "#ffffff", "font": "Open Sans", "fontSize": 11.5, "align": "center", "baseline": "middle"},
 "encoding": {"x": {"datum": 180.46, "type": "quantitative", "scale": {"domain": [3.9, 183.62], "nice": false, "zero": false}, "axis": null},
  "y": {"datum": 20108.06, "type": "quantitative", "scale": {"type": "log", "domain": [19391.3, 22027.6], "nice": false}, "title": "USDT"}}},
{"mark": {"type": "tick", "orient": "horizontal", "size": 70, "thickness": 17, "color": "#0000f0", "yOffset": 23.3},
 "encoding": {"x": {"datum": 179.99, "type": "quantitative", "scale": {"domain": [3.9, 183.62], "nice": false, "zero": false}, "axis": null},
  "y": {"datum": 20079.54, "type": "quantitative", "scale": {"type": "log", "domain": [19391.3, 22027.6], "nice": false}, "title": "USDT"}}},
{"mark": {"type": "text", "text": "MA:100 MA", "color": "#ffffff", "font": "Open Sans", "fontSize": 11.5, "align": "center", "baseline": "middle", "yOffset": 23.3},
 "encoding": {"x": {"datum": 179.99, "type": "quantitative", "scale": {"domain": [3.9, 183.62], "nice": false, "zero": false}, "axis": null},
  "y": {"datum": 20079.54, "type": "quantitative", "scale": {"type": "log", "domain": [19391.3, 22027.6], "nice": false}, "title": "USDT"}}},

{"mark": {"type": "tick", "orient": "horizontal", "size": 65, "thickness": 17, "color": "#089c08"},
 "encoding": {"x": {"datum": 187.03, "type": "quantitative", "scale": {"domain": [3.9, 183.62], "nice": false, "zero": false}, "axis": null},
  "y": {"datum": 20989.02, "type": "quantitative", "scale": {"type": "log", "domain": [19391.3, 22027.6], "nice": false}, "title": "USDT"}}},
{"mark": {"type": "text", "text": "20989.02", "color": "#ffffff", "font": "Open Sans", "fontSize": 11.5, "align": "center", "baseline": "middle"},
 "encoding": {"x": {"datum": 187.03, "type": "quantitative", "scale": {"domain": [3.9, 183.62], "nice": false, "zero": false}, "axis": null},
  "y": {"datum": 20989.02, "type": "quantitative", "scale": {"type": "log", "domain": [19391.3, 22027.6], "nice": false}, "title": "USDT"}}},
{"mark": {"type": "tick", "orient": "horizontal", "size": 65, "thickness": 17, "color": "#ff0000"},
 "encoding": {"x": {"datum": 187.03, "type": "quantitative", "scale": {"domain": [3.9, 183.62], "nice": false, "zero": false}, "axis": null},
  "y": {"datum": 20342.64, "type": "quantitative", "scale": {"type": "log", "domain": [19391.3, 22027.6], "nice": false}, "title": "USDT"}}},
{"mark": {"type": "text", "text": "20342.64", "color": "#ffffff", "font": "Open Sans", "fontSize": 11.5, "align": "center", "baseline": "middle"},
 "encoding": {"x": {"datum": 187.03, "type": "quantitative", "scale": {"domain": [3.9, 183.62], "nice": false, "zero": false}, "axis": null},
  "y": {"datum": 20342.64, "type": "quantitative", "scale": {"type": "log", "domain": [19391.3, 22027.6], "nice": false}, "title": "USDT"}}},
{"mark": {"type": "tick", "orient": "horizontal", "size": 65, "thickness": 17, "color": "#00f0ff"},
 "encoding": {"x": {"datum": 187.03, "type": "quantitative", "scale": {"domain": [3.9, 183.62], "nice": false, "zero": false}, "axis": null},
  "y": {"datum": 20286.79, "type": "quantitative", "scale": {"type": "log", "domain": [19391.3, 22027.6], "nice": false}, "title": "USDT"}}},
{"mark": {"type": "text", "text": "20286.79", "color": "#2a3f55", "font": "Open Sans", "fontSize": 11.5, "align": "center", "baseline": "middle"},
 "encoding": {"x": {"datum": 187.03, "type": "quantitative", "scale": {"domain": [3.9, 183.62], "nice": false, "zero": false}, "axis": null},
  "y": {"datum": 20286.79, "type": "quantitative", "scale": {"type": "log", "domain": [19391.3, 22027.6], "nice": false}, "title": "USDT"}}},
{"mark": {"type": "tick", "orient": "horizontal", "size": 65, "thickness": 17, "color": "#0a7a0a"},
 "encoding": {"x": {"datum": 187.03, "type": "quantitative", "scale": {"domain": [3.9, 183.62], "nice": false, "zero": false}, "axis": null},
  "y": {"datum": 20189.31, "type": "quantitative", "scale": {"type": "log", "domain": [19391.3, 22027.6], "nice": false}, "title": "USDT"}}},
{"mark": {"type": "text", "text": "20189.31", "color": "#ffffff", "font": "Open Sans", "fontSize": 11.5, "align": "center", "baseline": "middle"},
 "encoding": {"x": {"datum": 187.03, "type": "quantitative", "scale": {"domain": [3.9, 183.62], "nice": false, "zero": false}, "axis": null},
  "y": {"datum": 20189.31, "type": "quantitative", "scale": {"type": "log", "domain": [19391.3, 22027.6], "nice": false}, "title": "USDT"}}},
{"mark": {"type": "tick", "orient": "horizontal", "size": 65, "thickness": 30, "color": "#2962ff", "yOffset": 7},
 "encoding": {"x": {"datum": 187.03, "type": "quantitative", "scale": {"domain": [3.9, 183.62], "nice": false, "zero": false}, "axis": null},
  "y": {"datum": 20108.06, "type": "quantitative", "scale": {"type": "log", "domain": [19391.3, 22027.6], "nice": false}, "title": "USDT"}}},
{"mark": {"type": "text", "text": "20108.06", "color": "#ffffff", "font": "Open Sans", "fontSize": 11.5, "align": "center", "baseline": "middle", "yOffset": 0.5},
 "encoding": {"x": {"datum": 187.03, "type": "quantitative", "scale": {"domain": [3.9, 183.62], "nice": false, "zero": false}, "axis": null},
  "y": {"datum": 20108.06, "type": "quantitative", "scale": {"type": "log", "domain": [19391.3, 22027.6], "nice": false}, "title": "USDT"}}},
{"mark": {"type": "text", "text": "13:06", "color": "#dfe6ff", "font": "Open Sans", "fontSize": 11.5, "align": "center", "baseline": "middle", "yOffset": 14.5, "dx": -8},
 "encoding": {"x": {"datum": 187.03, "type": "quantitative", "scale": {"domain": [3.9, 183.62], "nice": false, "zero": false}, "axis": null},
  "y": {"datum": 20108.06, "type": "quantitative", "scale": {"type": "log", "domain": [19391.3, 22027.6], "nice": false}, "title": "USDT"}}},
{"mark": {"type": "tick", "orient": "horizontal", "size": 65, "thickness": 17, "color": "#0000f0", "yOffset": 23.3},
 "encoding": {"x": {"datum": 187.03, "type": "quantitative", "scale": {"domain": [3.9, 183.62], "nice": false, "zero": false}, "axis": null},
  "y": {"datum": 20079.54, "type": "quantitative", "scale": {"type": "log", "domain": [19391.3, 22027.6], "nice": false}, "title": "USDT"}}},
{"mark": {"type": "text", "text": "20079.54", "color": "#ffffff", "font": "Open Sans", "fontSize": 11.5, "align": "center", "baseline": "middle", "yOffset": 23.3},
 "encoding": {"x": {"datum": 187.03, "type": "quantitative", "scale": {"domain": [3.9, 183.62], "nice": false, "zero": false}, "axis": null},
  "y": {"datum": 20079.54, "type": "quantitative", "scale": {"type": "log", "domain": [19391.3, 22027.6], "nice": false}, "title": "USDT"}}},
{"mark": {"type": "tick", "orient": "horizontal", "size": 65, "thickness": 17, "color": "#55585f", "yOffset": 14},
 "encoding": {"x": {"datum": 187.03, "type": "quantitative", "scale": {"domain": [3.9, 183.62], "nice": false, "zero": false}, "axis": null},
  "y": {"datum": 19994.29, "type": "quantitative", "scale": {"type": "log", "domain": [19391.3, 22027.6], "nice": false}, "title": "USDT"}}},
{"mark": {"type": "text", "text": "19994.29", "color": "#ffffff", "font": "Open Sans", "fontSize": 11.5, "align": "center", "baseline": "middle", "yOffset": 14},
 "encoding": {"x": {"datum": 187.03, "type": "quantitative", "scale": {"domain": [3.9, 183.62], "nice": false, "zero": false}, "axis": null},
  "y": {"datum": 19994.29, "type": "quantitative", "scale": {"type": "log", "domain": [19391.3, 22027.6], "nice": false}, "title": "USDT"}}},
{"mark": {"type": "tick", "orient": "horizontal", "size": 65, "thickness": 17, "color": "#f20d0d"},
 "encoding": {"x": {"datum": 187.03, "type": "quantitative", "scale": {"domain": [3.9, 183.62], "nice": false, "zero": false}, "axis": null},
  "y": {"datum": 19706.92, "type": "quantitative", "scale": {"type": "log", "domain": [19391.3, 22027.6], "nice": false}, "title": "USDT"}}},
{"mark": {"type": "text", "text": "19706.92", "color": "#ffffff", "font": "Open Sans", "fontSize": 11.5, "align": "center", "baseline": "middle"},
 "encoding": {"x": {"datum": 187.03, "type": "quantitative", "scale": {"domain": [3.9, 183.62], "nice": false, "zero": false}, "axis": null},
  "y": {"datum": 19706.92, "type": "quantitative", "scale": {"type": "log", "domain": [19391.3, 22027.6], "nice": false}, "title": "USDT"}}}
]
}
],
"resolve": {"scale": {"x": "independent", "color": "independent"}, "axis": {"x": "independent"}}
}
